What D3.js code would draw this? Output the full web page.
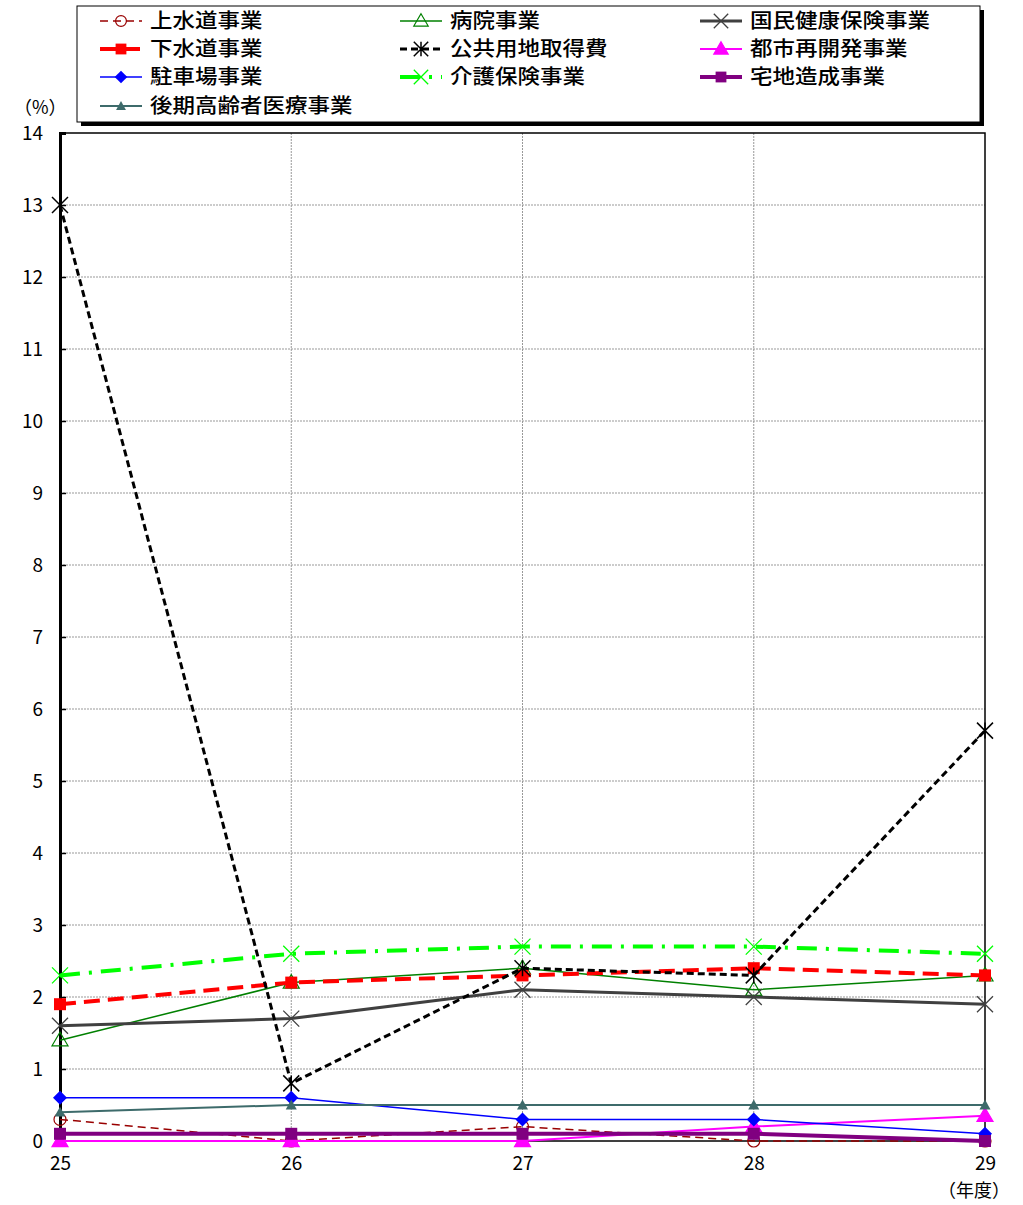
<!DOCTYPE html>
<html>
<head>
<meta charset="utf-8">
<script src="https://cdn.jsdelivr.net/npm/d3@7"></script>
<style>
  body { margin: 0; background: #fff; }
  text { font-family: "Noto Sans CJK JP", sans-serif; }
</style>
</head>
<body>
<div id="chart"></div>
<script>
const years = ['25', '26', '27', '28', '29'];
const yTicks = d3.range(0, 15);

const jousuidou = [0.3, 0.0, 0.2, 0.0, 0.0];
const byouin = [1.4, 2.2, 2.4, 2.1, 2.3];
const kokuho = [1.6, 1.7, 2.1, 2.0, 1.9];
const gesuidou = [1.9, 2.2, 2.3, 2.4, 2.3];
const kouyouchi = [13.0, 0.8, 2.4, 2.3, 5.7];
const toshi = [0.0, 0.0, 0.0, 0.2, 0.35];
const chushajo = [0.6, 0.6, 0.3, 0.3, 0.1];
const kaigo = [2.3, 2.6, 2.7, 2.7, 2.6];
const takuchi = [0.1, 0.1, 0.1, 0.1, 0.0];
const kouki = [0.4, 0.5, 0.5, 0.5, 0.5];

const series = [
  {name: '上水道事業', values: jousuidou, color: '#990000', width: 1.5, dash: '8,5', marker: 'circle', fill: 'none'},
  {name: '病院事業', values: byouin, color: '#008000', width: 1.5, dash: null, marker: 'triangle', fill: 'none'},
  {name: '国民健康保険事業', values: kokuho, color: '#404040', width: 3, dash: null, marker: 'x', fill: 'none'},
  {name: '下水道事業', values: gesuidou, color: '#ff0000', width: 4, dash: '16,8', marker: 'square', fill: '#ff0000'},
  {name: '公共用地取得費', values: kouyouchi, color: '#000000', width: 3, dash: '7,4', marker: 'star', fill: 'none'},
  {name: '都市再開発事業', values: toshi, color: '#ff00ff', width: 2, dash: null, marker: 'triangle', fill: '#ff00ff'},
  {name: '駐車場事業', values: chushajo, color: '#0000ff', width: 1.5, dash: null, marker: 'diamond', fill: '#0000ff'},
  {name: '介護保険事業', values: kaigo, color: '#00ff00', width: 4, dash: '20,9,3,9', marker: 'x', fill: 'none'},
  {name: '宅地造成事業', values: takuchi, color: '#800080', width: 4, dash: null, marker: 'square', fill: '#800080'},
  {name: '後期高齢者医療事業', values: kouki, color: '#3d6b6b', width: 2, dash: null, marker: 'smalltri', fill: '#3d6b6b'}
];

const width = 1023, height = 1205;
const margin = {top: 133, right: 38, bottom: 64, left: 60};
const innerW = width - margin.left - margin.right;
const innerH = height - margin.top - margin.bottom;

const svg = d3.select('#chart').append('svg')
  .attr('width', width)
  .attr('height', height);

const x = d3.scalePoint().domain(years).range([0, innerW]);
const y = d3.scaleLinear().domain([0, 14]).range([innerH, 0]);

const g = svg.append('g')
  .attr('transform', `translate(${margin.left}, ${margin.top})`);

// grid
g.selectAll('.hgrid')
  .data(yTicks.slice(1, -1))
  .join('line')
  .attr('x1', 0).attr('x2', innerW)
  .attr('y1', d => y(d)).attr('y2', d => y(d))
  .attr('stroke', '#999').attr('stroke-width', 1)
  .attr('stroke-dasharray', '2,1');
g.selectAll('.vgrid')
  .data(years.slice(1, -1))
  .join('line')
  .attr('x1', d => x(d)).attr('x2', d => x(d))
  .attr('y1', 0).attr('y2', innerH)
  .attr('stroke', '#999').attr('stroke-width', 1)
  .attr('stroke-dasharray', '2,1');

// frame
g.append('rect')
  .attr('width', innerW).attr('height', innerH)
  .attr('fill', 'none').attr('stroke', '#000').attr('stroke-width', 1.5);

// y axis
const yAxis = g.append('g')
  .call(d3.axisLeft(y).tickValues(yTicks).tickSize(-6).tickFormat(d3.format('d')).tickPadding(17))
  .call(g => g.select('.domain').attr('stroke-width', 3));
yAxis.selectAll('text')
  .attr('font-size', 19)
  .attr('fill', '#000');
yAxis.selectAll('.tick line').attr('stroke-width', 1.5);

// x axis
const xAxis = g.append('g')
  .attr('transform', `translate(0, ${innerH})`)
  .call(d3.axisBottom(x).tickSize(0).tickPadding(16))
  .call(g => g.select('.domain').remove());
xAxis.selectAll('text')
  .attr('font-size', 19)
  .attr('fill', '#000');

svg.append('text')
  .attr('x', 14).attr('y', 114)
  .attr('font-size', 18)
  .text('（%）');
svg.append('text')
  .attr('x', 938).attr('y', 1197)
  .attr('font-size', 18)
  .text('（年度）');

const drawMarker = (sel, s, px, py, scale = 1) => {
  const m = s.marker;
  const stroke = s.color;
  if (m === 'circle') {
    sel.append('circle').attr('cx', px).attr('cy', py).attr('r', 6 * scale)
      .attr('fill', 'none').attr('stroke', stroke).attr('stroke-width', 1.2);
  } else if (m === 'triangle') {
    const r = 8 * scale;
    sel.append('path')
      .attr('d', `M${px},${py - r}L${px + r},${py + r * 0.7}L${px - r},${py + r * 0.7}Z`)
      .attr('fill', s.fill).attr('stroke', stroke).attr('stroke-width', 1.2);
  } else if (m === 'smalltri') {
    const r = 5.5 * scale;
    sel.append('path')
      .attr('d', `M${px},${py - r}L${px + r},${py + r * 0.8}L${px - r},${py + r * 0.8}Z`)
      .attr('fill', s.fill);
  } else if (m === 'square') {
    const r = 6 * scale;
    sel.append('rect').attr('x', px - r).attr('y', py - r).attr('width', 2 * r).attr('height', 2 * r)
      .attr('fill', s.fill);
  } else if (m === 'diamond') {
    const r = 7 * scale;
    sel.append('path')
      .attr('d', `M${px},${py - r}L${px + r},${py}L${px},${py + r}L${px - r},${py}Z`)
      .attr('fill', s.fill);
  } else if (m === 'x') {
    const r = 8 * scale;
    sel.append('path')
      .attr('d', `M${px - r},${py - r}L${px + r},${py + r}M${px + r},${py - r}L${px - r},${py + r}`)
      .attr('stroke', stroke).attr('stroke-width', 1.3);
  } else if (m === 'star') {
    const r = 8 * scale;
    sel.append('path')
      .attr('d', `M${px - r},${py - r}L${px + r},${py + r}M${px + r},${py - r}L${px - r},${py + r}M${px},${py - r}L${px},${py + r}`)
      .attr('stroke', stroke).attr('stroke-width', 1.5);
  }
};

const line = d3.line()
  .x((d, i) => x(years[i]))
  .y(d => y(d));

series.forEach(s => {
  const sg = g.append('g');
  sg.append('path')
    .datum(s.values)
    .attr('d', line)
    .attr('fill', 'none')
    .attr('stroke', s.color)
    .attr('stroke-width', s.width)
    .attr('stroke-dasharray', s.dash);
  s.values.forEach((v, i) => drawMarker(sg, s, x(years[i]), y(v)));
});

// legend
const lg = svg.append('g');
lg.append('rect')
  .attr('x', 81).attr('y', 10).attr('width', 903).attr('height', 116)
  .attr('fill', '#000');
lg.append('rect')
  .attr('x', 77).attr('y', 6).attr('width', 903).attr('height', 116)
  .attr('fill', '#fff').attr('stroke', '#000').attr('stroke-width', 1);

const colX = [100, 400, 700];
const rowY = [21, 49, 77, 106];
series.forEach((s, i) => {
  const cx = colX[i % 3];
  const cy = rowY[Math.floor(i / 3)];
  lg.append('line')
    .attr('x1', cx).attr('x2', cx + 42)
    .attr('y1', cy).attr('y2', cy)
    .attr('stroke', s.color)
    .attr('stroke-width', s.width)
    .attr('stroke-dasharray', s.dash);
  drawMarker(lg, s, cx + 21, cy, 0.9);
  lg.append('text')
    .attr('x', cx + 50).attr('y', cy + 7)
    .attr('font-size', 20.5)
    .attr('font-weight', 500)
    .attr('textLength', s.name.length * 22.5)
    .attr('lengthAdjust', 'spacingAndGlyphs')
    .text(s.name);
});
</script>
</body>
</html>
